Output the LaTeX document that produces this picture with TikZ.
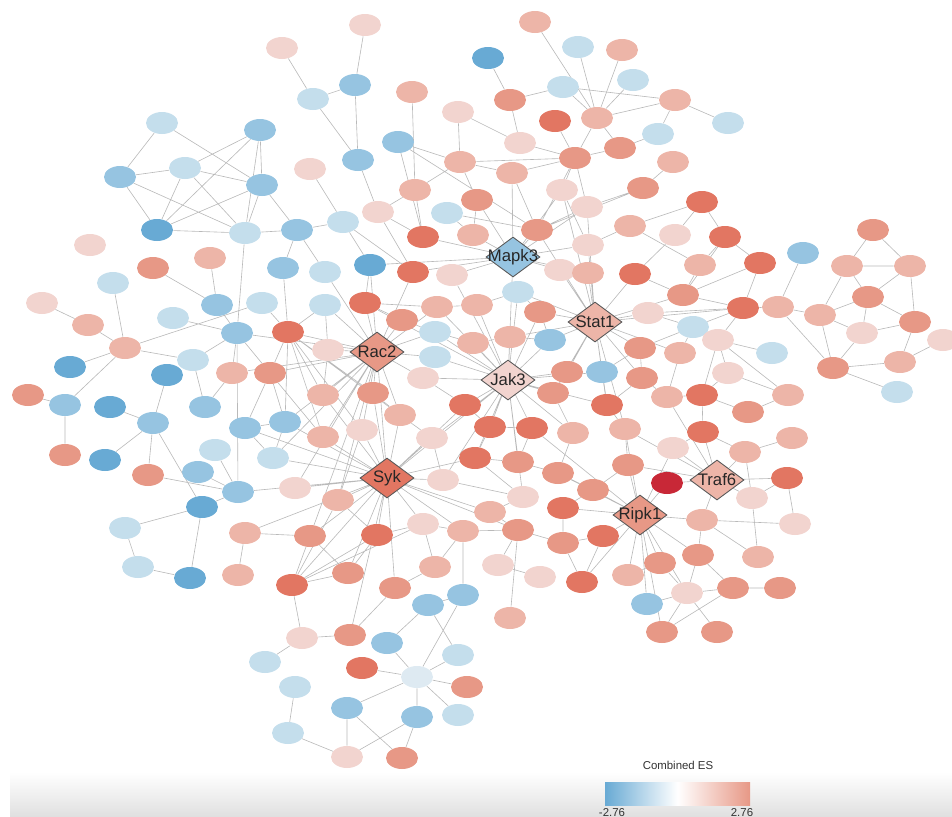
\documentclass[tikz,border=0pt]{standalone}
\usepackage{fontspec}
\setsansfont{Liberation Sans}
\usepackage{tikz}
\usetikzlibrary{shapes.geometric, backgrounds}
\usepackage{xcolor}
\definecolor{blu3}{RGB}{104,170,212}
\definecolor{blu2}{RGB}{150,196,225}
\definecolor{blu1}{RGB}{196,222,236}
\definecolor{blu0}{RGB}{222,234,242}
\definecolor{red1}{RGB}{242,212,207}
\definecolor{red2}{RGB}{237,181,168}
\definecolor{red3}{RGB}{231,152,134}
\definecolor{red4}{RGB}{226,118,98}
\definecolor{red5}{RGB}{200,40,55}

\begin{document}
\begin{tikzpicture}[x=0.2mm, y=-0.2mm,
    gene/.style={ellipse, minimum width=6.4mm, minimum height=4.4mm, inner sep=0pt},
    b3/.style={gene, fill=blu3}, b2/.style={gene, fill=blu2},
    b1/.style={gene, fill=blu1}, b0/.style={gene, fill=blu0},
    r1/.style={gene, fill=red1}, r2/.style={gene, fill=red2},
    r3/.style={gene, fill=red3}, r4/.style={gene, fill=red4},
    r5/.style={gene, fill=red5},
    hub/.style={diamond, draw=black!65, line width=0.5pt, minimum width=10.8mm,
      minimum height=8mm, inner sep=0pt,
      label={[text=black!85, font=\sffamily\fontsize{9.5}{10}\selectfont, inner sep=0pt]center:#1}},
    ed/.style={-, gray!55, line width=0.35pt},
    lg/.style={font=\sffamily\fontsize{6.5}{7}\selectfont, text=black!80, inner sep=1pt}
  ]
  \useasboundingbox (0,0) rectangle (952,816);
  % genes
  \node[r1] (n1) at (365,25) {};   \node[r2] (n2) at (535,22) {};   \node[r1] (n3) at (282,48) {};
  \node[b1] (n4) at (578,47) {};   \node[r2] (n5) at (622,50) {};   \node[b3] (n6) at (488,58) {};
  \node[b1] (n7) at (633,80) {};   \node[b2] (n8) at (355,85) {};   \node[b1] (n9) at (563,87) {};
  \node[r2] (n10) at (412,92) {};  \node[b1] (n11) at (313,99) {};  \node[r3] (n12) at (510,100) {};
  \node[r2] (n13) at (675,100) {}; \node[r1] (n14) at (458,112) {}; \node[r4] (n15) at (555,121) {};
  \node[r2] (n16) at (597,118) {}; \node[b1] (n17) at (728,123) {}; \node[b1] (n18) at (162,123) {};
  \node[b2] (n19) at (260,130) {}; \node[b1] (n20) at (658,134) {}; \node[b2] (n21) at (398,142) {};
  \node[r1] (n22) at (520,143) {}; \node[r3] (n23) at (620,148) {}; \node[b2] (n24) at (358,160) {};
  \node[r2] (n25) at (460,162) {}; \node[r3] (n26) at (575,158) {}; \node[r2] (n27) at (673,162) {};
  \node[r1] (n28) at (310,169) {}; \node[b1] (n29) at (185,168) {}; \node[b2] (n30) at (120,177) {};
  \node[r2] (n31) at (512,173) {}; \node[b2] (n32) at (262,185) {}; \node[r3] (n33) at (643,188) {};
  \node[r2] (n34) at (415,190) {}; \node[r1] (n35) at (562,190) {}; \node[r3] (n36) at (477,200) {};
  \node[r4] (n37) at (702,202) {}; \node[r1] (n38) at (378,212) {}; \node[b1] (n39) at (447,213) {};
  \node[r1] (n40) at (587,207) {}; \node[b1] (n41) at (343,222) {}; \node[b3] (n42) at (157,230) {};
  \node[b1] (n43) at (245,233) {}; \node[b2] (n44) at (297,230) {}; \node[r3] (n45) at (537,230) {};
  \node[r4] (n46) at (423,237) {}; \node[r2] (n47) at (473,235) {}; \node[r1] (n48) at (588,245) {};
  \node[r2] (n49) at (630,226) {}; \node[r1] (n50) at (675,235) {}; \node[r4] (n51) at (725,237) {};
  \node[r3] (n52) at (873,230) {}; \node[r1] (n53) at (90,245) {};  \node[r2] (n54) at (210,258) {};
  \node[r3] (n55) at (153,268) {}; \node[b2] (n56) at (283,268) {}; \node[b1] (n57) at (325,272) {};
  \node[b3] (n58) at (370,265) {}; \node[r4] (n59) at (413,272) {}; \node[r1] (n60) at (452,275) {};
  \node[r1] (n61) at (560,270) {}; \node[r2] (n62) at (588,273) {}; \node[r4] (n63) at (635,274) {};
  \node[r2] (n64) at (700,265) {}; \node[r4] (n65) at (760,263) {}; \node[b2] (n66) at (803,253) {};
  \node[r2] (n67) at (847,266) {}; \node[r2] (n68) at (910,266) {}; \node[b1] (n69) at (113,283) {};
  \node[r1] (n70) at (42,303) {};  \node[b2] (n71) at (217,305) {}; \node[b1] (n72) at (262,303) {};
  \node[b1] (n73) at (325,305) {}; \node[r4] (n74) at (365,303) {}; \node[r2] (n75) at (437,307) {};
  \node[r2] (n76) at (477,305) {}; \node[b1] (n77) at (518,292) {}; \node[r3] (n78) at (683,295) {};
  \node[r3] (n79) at (868,297) {}; \node[b1] (n80) at (173,318) {}; \node[r2] (n81) at (88,325) {};
  \node[r3] (n82) at (540,312) {}; \node[r4] (n83) at (743,308) {}; \node[r2] (n84) at (778,307) {};
  \node[r2] (n85) at (820,315) {}; \node[r3] (n86) at (915,322) {}; \node[r1] (n87) at (648,313) {};
  \node[b2] (n88) at (237,333) {}; \node[r4] (n89) at (288,332) {}; \node[r3] (n90) at (402,320) {};
  \node[b1] (n91) at (435,332) {}; \node[b1] (n92) at (693,327) {}; \node[r1] (n93) at (862,333) {};
  \node[r1] (n94) at (943,340) {}; \node[r2] (n95) at (125,348) {}; \node[r1] (n96) at (328,350) {};
  \node[r2] (n97) at (473,343) {}; \node[r2] (n98) at (510,337) {}; \node[b2] (n99) at (550,340) {};
  \node[r3] (n100) at (640,348) {}; \node[r2] (n101) at (680,353) {}; \node[r1] (n102) at (718,340) {};
  \node[b1] (n103) at (772,353) {}; \node[b1] (n104) at (193,360) {}; \node[b3] (n105) at (70,367) {};
  \node[b3] (n106) at (167,375) {}; \node[r2] (n107) at (232,373) {}; \node[r3] (n108) at (270,373) {};
  \node[b1] (n109) at (435,357) {}; \node[r3] (n110) at (567,372) {}; \node[b2] (n111) at (602,372) {};
  \node[r3] (n112) at (833,368) {}; \node[r2] (n113) at (900,362) {}; \node[r1] (n114) at (728,373) {};
  \node[r3] (n115) at (642,378) {}; \node[r3] (n116) at (28,395) {};  \node[b2] (n117) at (65,405) {};
  \node[b3] (n118) at (110,407) {}; \node[b2] (n119) at (205,407) {}; \node[r1] (n120) at (423,378) {};
  \node[r2] (n121) at (323,395) {}; \node[r3] (n122) at (373,393) {}; \node[r3] (n123) at (553,393) {};
  \node[b1] (n124) at (897,392) {}; \node[r2] (n125) at (667,397) {}; \node[r4] (n126) at (702,395) {};
  \node[r2] (n127) at (788,395) {}; \node[b2] (n128) at (153,423) {}; \node[b2] (n129) at (245,428) {};
  \node[b2] (n130) at (285,422) {}; \node[r4] (n131) at (465,405) {}; \node[r4] (n132) at (607,405) {};
  \node[r2] (n133) at (400,415) {}; \node[r3] (n134) at (748,412) {}; \node[r4] (n135) at (490,427) {};
  \node[r4] (n136) at (532,428) {}; \node[r2] (n137) at (573,433) {}; \node[r2] (n138) at (625,429) {};
  \node[r2] (n139) at (323,437) {}; \node[r1] (n140) at (362,430) {}; \node[r1] (n141) at (432,438) {};
  \node[r4] (n142) at (703,432) {}; \node[r2] (n143) at (792,438) {}; \node[b1] (n144) at (215,450) {};
  \node[r3] (n145) at (65,455) {};  \node[b3] (n146) at (105,460) {}; \node[b1] (n147) at (273,458) {};
  \node[r1] (n148) at (673,448) {}; \node[r2] (n149) at (745,452) {}; \node[r4] (n150) at (475,458) {};
  \node[r3] (n151) at (518,462) {}; \node[r3] (n152) at (558,473) {}; \node[r3] (n153) at (628,465) {};
  \node[r3] (n154) at (148,475) {}; \node[b2] (n155) at (198,472) {}; \node[r1] (n156) at (443,480) {};
  \node[r5] (n157) at (667,483) {}; \node[r4] (n158) at (787,478) {}; \node[b2] (n159) at (238,492) {};
  \node[r1] (n160) at (295,488) {}; \node[r2] (n161) at (338,500) {}; \node[r1] (n162) at (523,497) {};
  \node[r3] (n163) at (593,490) {}; \node[r1] (n164) at (752,498) {}; \node[b3] (n165) at (202,507) {};
  \node[r4] (n166) at (563,508) {}; \node[r2] (n167) at (490,512) {}; \node[r2] (n168) at (702,520) {};
  \node[r1] (n169) at (795,524) {}; \node[b1] (n170) at (125,528) {}; \node[r2] (n171) at (245,533) {};
  \node[r3] (n172) at (310,536) {}; \node[r4] (n173) at (377,535) {}; \node[r1] (n174) at (423,524) {};
  \node[r2] (n175) at (463,531) {}; \node[r3] (n176) at (518,530) {}; \node[r4] (n177) at (603,536) {};
  \node[r3] (n178) at (563,543) {}; \node[r3] (n179) at (660,563) {}; \node[r3] (n180) at (698,555) {};
  \node[r2] (n181) at (758,557) {}; \node[b1] (n182) at (138,567) {}; \node[b3] (n183) at (190,578) {};
  \node[r2] (n184) at (238,575) {}; \node[r4] (n185) at (292,585) {}; \node[r3] (n186) at (348,573) {};
  \node[r2] (n187) at (435,567) {}; \node[r1] (n188) at (498,565) {}; \node[r1] (n189) at (540,577) {};
  \node[r4] (n190) at (582,582) {}; \node[r2] (n191) at (628,575) {}; \node[r3] (n192) at (395,588) {};
  \node[r1] (n193) at (687,593) {}; \node[r3] (n194) at (733,588) {}; \node[r3] (n195) at (780,588) {};
  \node[b2] (n196) at (463,595) {}; \node[b2] (n197) at (428,605) {}; \node[r2] (n198) at (510,618) {};
  \node[b2] (n199) at (647,604) {}; \node[r3] (n200) at (662,632) {}; \node[r3] (n201) at (717,632) {};
  \node[r3] (n202) at (350,635) {}; \node[r1] (n203) at (302,638) {}; \node[b2] (n204) at (387,643) {};
  \node[b1] (n205) at (458,655) {}; \node[b1] (n206) at (265,662) {}; \node[r4] (n207) at (362,668) {};
  \node[b0] (n208) at (417,677) {}; \node[r3] (n209) at (467,687) {}; \node[b1] (n210) at (295,687) {};
  \node[b2] (n211) at (347,708) {}; \node[b2] (n212) at (417,717) {}; \node[b1] (n213) at (458,715) {};
  \node[b1] (n214) at (288,733) {}; \node[r1] (n215) at (347,757) {}; \node[r3] (n216) at (402,758) {};
  % hubs
  \node[hub=Mapk3, fill=blu2] (Mapk3) at (513,257) {};
  \node[hub=Stat1, fill=red2] (Stat1) at (595,322) {};
  \node[hub=Rac2, fill=red3] (Rac2) at (377,352) {};
  \node[hub=Jak3, fill=red1] (Jak3) at (508,380) {};
  \node[hub=Syk, fill=red4] (Syk) at (387,478) {};
  \node[hub=Traf6, fill=red2] (Traf6) at (717,480) {};
  \node[hub=Ripk1, fill=red3] (Ripk1) at (640,515) {};
  % legend
  \node[lg] (esT) at (678,765) {Combined ES};
  \node[lg, anchor=north] (esLo) at (612,806) {-2.76};
  \node[lg, anchor=north] (esHi) at (742,806) {2.76};
  \begin{scope}[on background layer]
    \shade[top color=white, bottom color=black!12] (10,772) rectangle (952,816);
    \shade[left color=blu3, right color=red3, middle color=white] (605,782) rectangle (750,805);
    % links
    \draw[ed] (n3)--(n11) (n18)--(n30) (n18)--(n32) (n19)--(n29) (n19)--(n42) (n19)--(n43)
      (n19)--(n32) (n30)--(n29) (n30)--(n42) (n30)--(n43) (n29)--(n32) (n29)--(n42) (n29)--(n43)
      (n42)--(n43) (n42)--(n32) (n32)--(n43) (n32)--(n44) (n43)--(n44) (n43)--(n88) (n28)--(n41)
      (n44)--(n56) (n44)--(n57) (n44)--(n41);
    \draw[ed] (n1)--(n8) (n8)--(n11) (n11)--(n24) (n8)--(n24) (n24)--(n38) (n10)--(n34) (n6)--(n12)
      (n12)--(n9) (n12)--(n22) (n14)--(n22) (n14)--(n25) (n2)--(n16) (n4)--(n16) (n5)--(n16)
      (n7)--(n16) (n9)--(n16) (n15)--(n26) (n16)--(n26) (n16)--(n23) (n16)--(n13) (n21)--(n25)
      (n21)--(n46) (n21)--(n45) (n22)--(n26) (n25)--(n26) (n25)--(n31) (n25)--(n36) (n25)--(n34)
      (n31)--(n26) (n31)--(n45) (n31)--(Mapk3) (n26)--(n45) (n26)--(n35) (n26)--(n40) (n34)--(n38)
      (n34)--(n46) (n36)--(Mapk3) (n39)--(n45) (n35)--(Mapk3) (n40)--(Mapk3) (n45)--(Mapk3)
      (n46)--(Mapk3) (n47)--(Mapk3) (n48)--(Mapk3) (n60)--(Mapk3) (n58)--(Mapk3) (n59)--(Mapk3)
      (n61)--(Mapk3) (n62)--(Mapk3) (n38)--(n46) (n38)--(n59) (n41)--(n58) (n41)--(n59);
    \draw[ed] (n13)--(n17) (n13)--(n20) (n13)--(n9) (n20)--(n23) (n23)--(n26) (n27)--(n33)
      (n33)--(n40) (n37)--(n49) (n37)--(n50) (n37)--(n51) (n49)--(n48) (n49)--(n64) (n50)--(n63)
      (n51)--(n64) (n51)--(n65) (n51)--(n78) (n52)--(n67) (n67)--(n68) (n52)--(n68) (n66)--(n84)
      (n33)--(n45) (n36)--(n47) (n39)--(n47) (n35)--(n48) (n40)--(n45);
    \draw[ed] (n64)--(n78) (n63)--(n78) (n65)--(n83) (n78)--(n83) (n83)--(n84) (n83)--(n87)
      (n83)--(n102) (n84)--(n85) (n67)--(n79) (n67)--(n85) (n68)--(n79) (n68)--(n86) (n79)--(n85)
      (n79)--(n86) (n79)--(n93) (n85)--(n93) (n85)--(n112) (n86)--(n93) (n86)--(n113) (n93)--(n112)
      (n112)--(n113) (n112)--(n124) (n113)--(n94) (n84)--(n112) (n102)--(n103) (n102)--(n114)
      (n102)--(n127) (n102)--(n126) (n114)--(n126) (n114)--(n127) (n126)--(n134) (n127)--(n134)
      (n126)--(n125) (n126)--(n142) (n142)--(n148) (n142)--(n149) (n142)--(Traf6) (n149)--(n164)
      (n149)--(n143) (n158)--(n169) (n164)--(Traf6) (Traf6)--(n157) (Traf6)--(n168)
      (Traf6)--(n149) (n157)--(Ripk1) (Ripk1)--(n168) (n168)--(n181) (n168)--(n180) (n158)--(n164)
      (n87)--(n92) (n92)--(n100) (n92)--(n101) (n100)--(n115) (n101)--(n125) (n115)--(n125)
      (n83)--(n92) (n65)--(n78);
    \draw[ed] (Rac2)--(n74) (Rac2)--(n58) (Rac2)--(n57) (Rac2)--(n73) (Rac2)--(n96) (Rac2)--(n89)
      (Rac2)--(n90) (Rac2)--(n121) (Rac2)--(n122) (Rac2)--(n107) (Rac2)--(n108) (Rac2)--(n130)
      (Rac2)--(n139) (Rac2)--(n140) (Rac2)--(n133) (Rac2)--(n161) (Rac2)--(n160) (Rac2)--(n147)
      (Rac2)--(n75) (Rac2)--(n91) (Rac2)--(n109) (Rac2)--(Syk) (Rac2)--(n172) (Rac2)--(n120)
      (Rac2)--(n88) (Rac2)--(n59);
    \draw[ed] (Jak3)--(n97) (Jak3)--(n98) (Jak3)--(n76) (Jak3)--(n77) (Jak3)--(n99) (Jak3)--(n82)
      (Jak3)--(n110) (Jak3)--(n111) (Jak3)--(n131) (Jak3)--(n135) (Jak3)--(n136) (Jak3)--(n123)
      (Jak3)--(n141) (Jak3)--(n120) (Jak3)--(n150) (Jak3)--(n151) (Jak3)--(n109) (Jak3)--(n91)
      (Jak3)--(n75) (Jak3)--(Mapk3) (Jak3)--(n156) (Jak3)--(Syk) (Jak3)--(n74) (Jak3)--(n60)
      (Jak3)--(n137) (Jak3)--(n162) (Jak3)--(n132);
    \draw[ed] (Syk)--(n121) (Syk)--(n122) (Syk)--(n133) (Syk)--(n139) (Syk)--(n140) (Syk)--(n141)
      (Syk)--(n156) (Syk)--(n161) (Syk)--(n160) (Syk)--(n172) (Syk)--(n173) (Syk)--(n174)
      (Syk)--(n175) (Syk)--(n185) (Syk)--(n186) (Syk)--(n192) (Syk)--(n171) (Syk)--(n202)
      (Syk)--(n147) (Syk)--(n130) (Syk)--(n129) (Syk)--(n150) (Syk)--(n131) (Syk)--(n159)
      (Syk)--(n167) (Syk)--(n176);
    \draw[ed] (Stat1)--(n82) (Stat1)--(n99) (Stat1)--(n110) (Stat1)--(n111) (Stat1)--(n61)
      (Stat1)--(n62) (Stat1)--(n63) (Stat1)--(n87) (Stat1)--(n100) (Stat1)--(n115) (Stat1)--(n78)
      (Stat1)--(n83) (Stat1)--(n48) (Stat1)--(n35) (Stat1)--(n40) (Stat1)--(n98) (Stat1)--(n132)
      (Stat1)--(n123) (Stat1)--(n101) (Stat1)--(n45) (Stat1)--(n77) (Stat1)--(n138);
    \draw[ed] (Ripk1)--(n153) (Ripk1)--(n163) (Ripk1)--(n166) (Ripk1)--(n177) (Ripk1)--(n179)
      (Ripk1)--(n180) (Ripk1)--(n191) (Ripk1)--(n190) (Ripk1)--(n199) (Ripk1)--(n200)
      (Ripk1)--(n193) (Ripk1)--(n152) (Ripk1)--(n138) (Ripk1)--(n148) (Ripk1)--(n136)
      (Traf6)--(n148) (Traf6)--(n138) (Traf6)--(n153) (Traf6)--(n125) (Traf6)--(n158);
    \draw[ed] (n69)--(n95) (n70)--(n81) (n81)--(n95) (n95)--(n105) (n95)--(n117) (n95)--(n104)
      (n95)--(n72) (n71)--(n88) (n55)--(n71) (n54)--(n71) (n88)--(n104) (n88)--(n107) (n88)--(n108)
      (n80)--(n88) (n88)--(n159) (n104)--(n119) (n107)--(n119) (n89)--(n130) (n89)--(n108)
      (n89)--(n121) (n89)--(n133) (n108)--(n130) (n108)--(n129) (n106)--(n128) (n117)--(n116)
      (n117)--(n145) (n118)--(n128) (n128)--(n154) (n128)--(n165) (n146)--(n128) (n155)--(n159)
      (n144)--(n159) (n154)--(n159) (n159)--(n165) (n165)--(n170) (n130)--(n129) (n56)--(n89)
      (n72)--(n89) (n73)--(n89) (n130)--(n147) (n129)--(n147) (n108)--(n139) (n89)--(n139)
      (n89)--(n140) (n89)--(n122);
    \draw[ed] (n96)--(n121) (n73)--(n96) (n74)--(n90) (n90)--(n91) (n91)--(n97) (n74)--(n75)
      (n58)--(n74) (n75)--(n76) (n76)--(n77) (n77)--(n82) (n82)--(n99) (n98)--(n99) (n97)--(n98)
      (n109)--(n120) (n120)--(n131) (n131)--(n135) (n135)--(n136) (n136)--(n151) (n150)--(n151)
      (n151)--(n152) (n152)--(n163) (n163)--(n166) (n162)--(n167) (n167)--(n176) (n123)--(n137)
      (n137)--(n152) (n110)--(n123) (n111)--(n132) (n132)--(n138) (n138)--(n153) (n153)--(n163)
      (n115)--(n132) (n100)--(n111) (n141)--(n156) (n156)--(n162) (n133)--(n141) (n122)--(n133)
      (n140)--(n161) (n161)--(n173) (n173)--(n174) (n174)--(n175) (n175)--(n176) (n176)--(n178)
      (n178)--(n177) (n166)--(n178) (n150)--(n162) (n135)--(n150);
    \draw[ed] (n170)--(n182) (n182)--(n183) (n165)--(n183) (n171)--(n184) (n185)--(n203)
      (n203)--(n206) (n185)--(n172) (n185)--(n161) (n185)--(n173) (n185)--(n174) (n210)--(n214)
      (n214)--(n215) (n174)--(n187) (n175)--(n196) (n175)--(n187) (n176)--(n198) (n176)--(n188)
      (n188)--(n189) (n177)--(n190) (n178)--(n190) (n197)--(n196) (n197)--(n204) (n197)--(n205)
      (n196)--(n208) (n204)--(n208) (n205)--(n208) (n207)--(n208) (n209)--(n208) (n211)--(n208)
      (n212)--(n208) (n213)--(n208) (n211)--(n215) (n211)--(n216) (n212)--(n215) (n212)--(n216)
      (n202)--(n192) (n202)--(n203) (n192)--(n187) (n186)--(n173) (n186)--(n172) (n185)--(n186)
      (n171)--(n172);
    \draw[ed] (n179)--(n193) (n180)--(n193) (n180)--(n194) (n193)--(n194) (n194)--(n195)
      (n193)--(n199) (n193)--(n200) (n193)--(n201) (n194)--(n200) (n179)--(n191) (n168)--(n169)
      (n164)--(n181);
  \end{scope}
\end{tikzpicture}
\end{document}
